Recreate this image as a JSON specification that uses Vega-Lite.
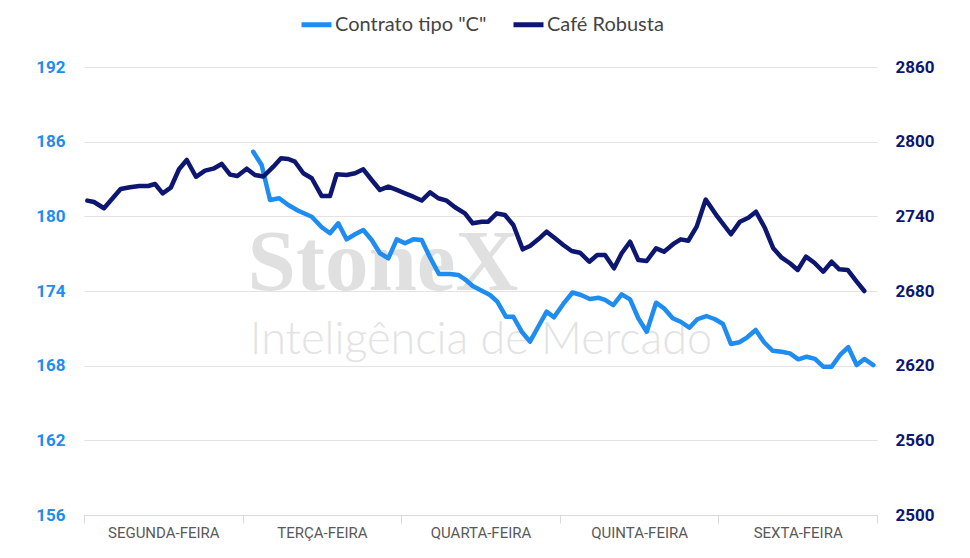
{
  "$schema": "https://vega.github.io/schema/vega-lite/v6.json",
  "width": 793,
  "height": 448,
  "autosize": {"type": "none"},
  "padding": {"left": 84, "top": 67, "right": 93, "bottom": 43},
  "background": "white",
  "config": {"view": {"stroke": null}, "font": "Roboto"},
  "datasets": {
    "arabica": [
      {"t": 1.067, "preco": 185.19, "serie": "Contrato tipo \"C\""},
      {"t": 1.120, "preco": 184.13, "serie": "Contrato tipo \"C\""},
      {"t": 1.173, "preco": 181.31, "serie": "Contrato tipo \"C\""},
      {"t": 1.231, "preco": 181.45, "serie": "Contrato tipo \"C\""},
      {"t": 1.288, "preco": 180.91, "serie": "Contrato tipo \"C\""},
      {"t": 1.351, "preco": 180.45, "serie": "Contrato tipo \"C\""},
      {"t": 1.436, "preco": 179.97, "serie": "Contrato tipo \"C\""},
      {"t": 1.499, "preco": 179.12, "serie": "Contrato tipo \"C\""},
      {"t": 1.551, "preco": 178.64, "serie": "Contrato tipo \"C\""},
      {"t": 1.603, "preco": 179.44, "serie": "Contrato tipo \"C\""},
      {"t": 1.656, "preco": 178.15, "serie": "Contrato tipo \"C\""},
      {"t": 1.709, "preco": 178.56, "serie": "Contrato tipo \"C\""},
      {"t": 1.761, "preco": 178.90, "serie": "Contrato tipo \"C\""},
      {"t": 1.814, "preco": 178.10, "serie": "Contrato tipo \"C\""},
      {"t": 1.866, "preco": 177.03, "serie": "Contrato tipo \"C\""},
      {"t": 1.919, "preco": 176.63, "serie": "Contrato tipo \"C\""},
      {"t": 1.972, "preco": 178.15, "serie": "Contrato tipo \"C\""},
      {"t": 2.024, "preco": 177.83, "serie": "Contrato tipo \"C\""},
      {"t": 2.076, "preco": 178.15, "serie": "Contrato tipo \"C\""},
      {"t": 2.129, "preco": 178.10, "serie": "Contrato tipo \"C\""},
      {"t": 2.182, "preco": 176.69, "serie": "Contrato tipo \"C\""},
      {"t": 2.238, "preco": 175.37, "serie": "Contrato tipo \"C\""},
      {"t": 2.308, "preco": 175.37, "serie": "Contrato tipo \"C\""},
      {"t": 2.360, "preco": 175.29, "serie": "Contrato tipo \"C\""},
      {"t": 2.402, "preco": 174.94, "serie": "Contrato tipo \"C\""},
      {"t": 2.451, "preco": 174.40, "serie": "Contrato tipo \"C\""},
      {"t": 2.508, "preco": 174.02, "serie": "Contrato tipo \"C\""},
      {"t": 2.560, "preco": 173.68, "serie": "Contrato tipo \"C\""},
      {"t": 2.606, "preco": 173.14, "serie": "Contrato tipo \"C\""},
      {"t": 2.661, "preco": 171.93, "serie": "Contrato tipo \"C\""},
      {"t": 2.707, "preco": 171.93, "serie": "Contrato tipo \"C\""},
      {"t": 2.760, "preco": 170.73, "serie": "Contrato tipo \"C\""},
      {"t": 2.812, "preco": 169.93, "serie": "Contrato tipo \"C\""},
      {"t": 2.864, "preco": 171.13, "serie": "Contrato tipo \"C\""},
      {"t": 2.917, "preco": 172.34, "serie": "Contrato tipo \"C\""},
      {"t": 2.963, "preco": 171.89, "serie": "Contrato tipo \"C\""},
      {"t": 3.022, "preco": 172.96, "serie": "Contrato tipo \"C\""},
      {"t": 3.080, "preco": 173.88, "serie": "Contrato tipo \"C\""},
      {"t": 3.134, "preco": 173.68, "serie": "Contrato tipo \"C\""},
      {"t": 3.189, "preco": 173.36, "serie": "Contrato tipo \"C\""},
      {"t": 3.246, "preco": 173.45, "serie": "Contrato tipo \"C\""},
      {"t": 3.285, "preco": 173.28, "serie": "Contrato tipo \"C\""},
      {"t": 3.337, "preco": 172.87, "serie": "Contrato tipo \"C\""},
      {"t": 3.390, "preco": 173.73, "serie": "Contrato tipo \"C\""},
      {"t": 3.443, "preco": 173.33, "serie": "Contrato tipo \"C\""},
      {"t": 3.495, "preco": 171.81, "serie": "Contrato tipo \"C\""},
      {"t": 3.548, "preco": 170.73, "serie": "Contrato tipo \"C\""},
      {"t": 3.607, "preco": 173.06, "serie": "Contrato tipo \"C\""},
      {"t": 3.657, "preco": 172.61, "serie": "Contrato tipo \"C\""},
      {"t": 3.712, "preco": 171.81, "serie": "Contrato tipo \"C\""},
      {"t": 3.762, "preco": 171.53, "serie": "Contrato tipo \"C\""},
      {"t": 3.817, "preco": 171.05, "serie": "Contrato tipo \"C\""},
      {"t": 3.867, "preco": 171.73, "serie": "Contrato tipo \"C\""},
      {"t": 3.924, "preco": 171.99, "serie": "Contrato tipo \"C\""},
      {"t": 3.979, "preco": 171.73, "serie": "Contrato tipo \"C\""},
      {"t": 4.029, "preco": 171.35, "serie": "Contrato tipo \"C\""},
      {"t": 4.079, "preco": 169.74, "serie": "Contrato tipo \"C\""},
      {"t": 4.132, "preco": 169.88, "serie": "Contrato tipo \"C\""},
      {"t": 4.182, "preco": 170.28, "serie": "Contrato tipo \"C\""},
      {"t": 4.235, "preco": 170.87, "serie": "Contrato tipo \"C\""},
      {"t": 4.288, "preco": 169.88, "serie": "Contrato tipo \"C\""},
      {"t": 4.342, "preco": 169.20, "serie": "Contrato tipo \"C\""},
      {"t": 4.399, "preco": 169.12, "serie": "Contrato tipo \"C\""},
      {"t": 4.451, "preco": 168.99, "serie": "Contrato tipo \"C\""},
      {"t": 4.504, "preco": 168.51, "serie": "Contrato tipo \"C\""},
      {"t": 4.557, "preco": 168.72, "serie": "Contrato tipo \"C\""},
      {"t": 4.609, "preco": 168.54, "serie": "Contrato tipo \"C\""},
      {"t": 4.661, "preco": 167.92, "serie": "Contrato tipo \"C\""},
      {"t": 4.714, "preco": 167.92, "serie": "Contrato tipo \"C\""},
      {"t": 4.767, "preco": 168.86, "serie": "Contrato tipo \"C\""},
      {"t": 4.819, "preco": 169.48, "serie": "Contrato tipo \"C\""},
      {"t": 4.872, "preco": 168.05, "serie": "Contrato tipo \"C\""},
      {"t": 4.920, "preco": 168.54, "serie": "Contrato tipo \"C\""},
      {"t": 4.977, "preco": 168.05, "serie": "Contrato tipo \"C\""}
    ],
    "robusta": [
      {"t": 0.021, "preco": 2752.6, "serie": "Café Robusta"},
      {"t": 0.063, "preco": 2751.5, "serie": "Café Robusta"},
      {"t": 0.126, "preco": 2746.5, "serie": "Café Robusta"},
      {"t": 0.175, "preco": 2753.7, "serie": "Café Robusta"},
      {"t": 0.231, "preco": 2762.0, "serie": "Café Robusta"},
      {"t": 0.290, "preco": 2763.3, "serie": "Café Robusta"},
      {"t": 0.349, "preco": 2764.4, "serie": "Café Robusta"},
      {"t": 0.405, "preco": 2764.4, "serie": "Café Robusta"},
      {"t": 0.448, "preco": 2766.0, "serie": "Café Robusta"},
      {"t": 0.496, "preco": 2758.5, "serie": "Café Robusta"},
      {"t": 0.547, "preco": 2763.0, "serie": "Café Robusta"},
      {"t": 0.599, "preco": 2777.8, "serie": "Café Robusta"},
      {"t": 0.648, "preco": 2785.3, "serie": "Café Robusta"},
      {"t": 0.706, "preco": 2771.8, "serie": "Café Robusta"},
      {"t": 0.763, "preco": 2776.7, "serie": "Café Robusta"},
      {"t": 0.815, "preco": 2778.3, "serie": "Café Robusta"},
      {"t": 0.868, "preco": 2782.1, "serie": "Café Robusta"},
      {"t": 0.921, "preco": 2773.5, "serie": "Café Robusta"},
      {"t": 0.967, "preco": 2772.4, "serie": "Café Robusta"},
      {"t": 1.026, "preco": 2778.3, "serie": "Café Robusta"},
      {"t": 1.078, "preco": 2773.2, "serie": "Café Robusta"},
      {"t": 1.131, "preco": 2772.0, "serie": "Café Robusta"},
      {"t": 1.194, "preco": 2779.9, "serie": "Café Robusta"},
      {"t": 1.242, "preco": 2786.6, "serie": "Café Robusta"},
      {"t": 1.288, "preco": 2786.1, "serie": "Café Robusta"},
      {"t": 1.330, "preco": 2783.9, "serie": "Café Robusta"},
      {"t": 1.383, "preco": 2774.6, "serie": "Café Robusta"},
      {"t": 1.436, "preco": 2770.6, "serie": "Café Robusta"},
      {"t": 1.499, "preco": 2756.3, "serie": "Café Robusta"},
      {"t": 1.551, "preco": 2756.3, "serie": "Café Robusta"},
      {"t": 1.593, "preco": 2773.8, "serie": "Café Robusta"},
      {"t": 1.656, "preco": 2773.2, "serie": "Café Robusta"},
      {"t": 1.709, "preco": 2774.6, "serie": "Café Robusta"},
      {"t": 1.761, "preco": 2777.8, "serie": "Café Robusta"},
      {"t": 1.814, "preco": 2769.2, "serie": "Café Robusta"},
      {"t": 1.866, "preco": 2761.2, "serie": "Café Robusta"},
      {"t": 1.919, "preco": 2763.8, "serie": "Café Robusta"},
      {"t": 1.972, "preco": 2761.2, "serie": "Café Robusta"},
      {"t": 2.024, "preco": 2758.5, "serie": "Café Robusta"},
      {"t": 2.076, "preco": 2755.8, "serie": "Café Robusta"},
      {"t": 2.129, "preco": 2752.7, "serie": "Café Robusta"},
      {"t": 2.182, "preco": 2759.2, "serie": "Café Robusta"},
      {"t": 2.234, "preco": 2754.5, "serie": "Café Robusta"},
      {"t": 2.287, "preco": 2752.6, "serie": "Café Robusta"},
      {"t": 2.339, "preco": 2747.3, "serie": "Café Robusta"},
      {"t": 2.402, "preco": 2742.4, "serie": "Café Robusta"},
      {"t": 2.451, "preco": 2734.4, "serie": "Café Robusta"},
      {"t": 2.508, "preco": 2735.7, "serie": "Café Robusta"},
      {"t": 2.549, "preco": 2735.7, "serie": "Café Robusta"},
      {"t": 2.602, "preco": 2742.4, "serie": "Café Robusta"},
      {"t": 2.654, "preco": 2741.1, "serie": "Café Robusta"},
      {"t": 2.707, "preco": 2733.0, "serie": "Café Robusta"},
      {"t": 2.766, "preco": 2713.5, "serie": "Café Robusta"},
      {"t": 2.812, "preco": 2716.2, "serie": "Café Robusta"},
      {"t": 2.864, "preco": 2721.5, "serie": "Café Robusta"},
      {"t": 2.917, "preco": 2727.7, "serie": "Café Robusta"},
      {"t": 2.970, "preco": 2722.3, "serie": "Café Robusta"},
      {"t": 3.022, "preco": 2717.0, "serie": "Café Robusta"},
      {"t": 3.075, "preco": 2712.1, "serie": "Café Robusta"},
      {"t": 3.127, "preco": 2710.8, "serie": "Café Robusta"},
      {"t": 3.186, "preco": 2703.5, "serie": "Café Robusta"},
      {"t": 3.236, "preco": 2708.9, "serie": "Café Robusta"},
      {"t": 3.285, "preco": 2708.9, "serie": "Café Robusta"},
      {"t": 3.342, "preco": 2698.2, "serie": "Café Robusta"},
      {"t": 3.390, "preco": 2710.3, "serie": "Café Robusta"},
      {"t": 3.443, "preco": 2719.6, "serie": "Café Robusta"},
      {"t": 3.495, "preco": 2704.9, "serie": "Café Robusta"},
      {"t": 3.548, "preco": 2704.1, "serie": "Café Robusta"},
      {"t": 3.607, "preco": 2714.3, "serie": "Café Robusta"},
      {"t": 3.657, "preco": 2711.6, "serie": "Café Robusta"},
      {"t": 3.716, "preco": 2717.8, "serie": "Café Robusta"},
      {"t": 3.762, "preco": 2721.5, "serie": "Café Robusta"},
      {"t": 3.810, "preco": 2720.4, "serie": "Café Robusta"},
      {"t": 3.863, "preco": 2731.7, "serie": "Café Robusta"},
      {"t": 3.920, "preco": 2753.5, "serie": "Café Robusta"},
      {"t": 3.994, "preco": 2739.7, "serie": "Café Robusta"},
      {"t": 4.079, "preco": 2725.6, "serie": "Café Robusta"},
      {"t": 4.136, "preco": 2735.7, "serie": "Café Robusta"},
      {"t": 4.189, "preco": 2738.9, "serie": "Café Robusta"},
      {"t": 4.237, "preco": 2743.7, "serie": "Café Robusta"},
      {"t": 4.294, "preco": 2730.4, "serie": "Café Robusta"},
      {"t": 4.346, "preco": 2714.3, "serie": "Café Robusta"},
      {"t": 4.399, "preco": 2706.8, "serie": "Café Robusta"},
      {"t": 4.451, "preco": 2702.3, "serie": "Café Robusta"},
      {"t": 4.500, "preco": 2696.9, "serie": "Café Robusta"},
      {"t": 4.552, "preco": 2707.6, "serie": "Café Robusta"},
      {"t": 4.605, "preco": 2702.7, "serie": "Café Robusta"},
      {"t": 4.661, "preco": 2695.5, "serie": "Café Robusta"},
      {"t": 4.714, "preco": 2703.5, "serie": "Café Robusta"},
      {"t": 4.762, "preco": 2697.4, "serie": "Café Robusta"},
      {"t": 4.815, "preco": 2696.9, "serie": "Café Robusta"},
      {"t": 4.872, "preco": 2687.5, "serie": "Café Robusta"},
      {"t": 4.920, "preco": 2680.0, "serie": "Café Robusta"}
    ]
  },
  "layer": [
    {
      "layer": [
        {
          "data": {"values": [{"t": 1.885, "preco": 174.1, "texto": "StoneX"}]},
          "mark": {"type": "text", "font": "Liberation Serif", "fontWeight": "bold", "fontSize": 87, "color": "#e0e0e0", "align": "center", "baseline": "alphabetic"},
          "encoding": {
            "x": {"field": "t", "type": "quantitative", "scale": {"domain": [0, 5], "nice": false, "zero": false}},
            "y": {"field": "preco", "type": "quantitative", "scale": {"domain": [156, 192], "nice": false, "zero": false}},
            "text": {"field": "texto"}
          }
        },
        {
          "data": {"values": [{"t": 2.503, "preco": 168.9, "texto": "Inteligência de Mercado"}]},
          "mark": {"type": "text", "font": "Lato", "fontWeight": 300, "fontSize": 45, "color": "#e3e3e3", "align": "center", "baseline": "alphabetic"},
          "encoding": {
            "x": {"field": "t", "type": "quantitative"},
            "y": {"field": "preco", "type": "quantitative"},
            "text": {"field": "texto"}
          }
        },
        {
          "data": {"name": "arabica"},
          "mark": {"type": "line", "strokeWidth": 4.5, "strokeJoin": "round", "strokeCap": "round"},
          "encoding": {
            "x": {
              "field": "t", "type": "quantitative",
              "scale": {"domain": [0, 5], "nice": false, "zero": false},
              "axis": {
                "title": null,
                "values": [0, 0.5, 1, 1.5, 2, 2.5, 3, 3.5, 4, 4.5, 5],
                "labelExpr": "datum.value==0.5?'SEGUNDA-FEIRA':datum.value==1.5?'TERÇA-FEIRA':datum.value==2.5?'QUARTA-FEIRA':datum.value==3.5?'QUINTA-FEIRA':datum.value==4.5?'SEXTA-FEIRA':''",
                "labelFont": "Roboto",
                "labelFontSize": 15,
                "labelColor": "#595959",
                "labelPadding": 2,
                "labelOverlap": false,
                "labelBound": false,
                "labelFlush": false,
                "tickSize": 8,
                "tickColor": "#d9d9d9",
                "tickOpacity": {"condition": {"test": "datum.value % 1 !== 0", "value": 0}, "value": 1},
                "domainColor": "#d9d9d9",
                "grid": false
              }
            },
            "y": {
              "field": "preco", "type": "quantitative",
              "scale": {"domain": [156, 192], "nice": false, "zero": false},
              "axis": {
                "title": null,
                "orient": "left",
                "values": [156, 162, 168, 174, 180, 186, 192],
                "labelColor": "#1E8CF0",
                "labelFont": "Roboto",
                "labelFontSize": 17,
                "labelFontWeight": "bold",
                "labelPadding": 19,
                "ticks": false,
                "domain": false,
                "grid": true,
                "gridColor": "#e3e3e3",
                "gridWidth": 1
              }
            },
            "color": {
              "field": "serie", "type": "nominal",
              "scale": {"domain": ["Contrato tipo \"C\"", "Café Robusta"], "range": ["#1E8CF0", "#0D1670"]},
              "legend": {
                "orient": "none",
                "legendX": 215,
                "legendY": -60,
                "direction": "horizontal",
                "title": null,
                "symbolType": "stroke",
                "symbolSize": 900,
                "symbolStrokeWidth": 5,
                "labelFont": "Lato",
                "labelFontSize": 20,
                "labelColor": "#444444",
                "labelOffset": 1,
                "columnPadding": 16
              }
            }
          }
        }
      ]
    },
    {
      "data": {"name": "robusta"},
      "mark": {"type": "line", "strokeWidth": 4.5, "strokeJoin": "round", "strokeCap": "round"},
      "encoding": {
        "x": {"field": "t", "type": "quantitative"},
        "y": {
          "field": "preco", "type": "quantitative",
          "scale": {"domain": [2500, 2860], "nice": false, "zero": false},
          "axis": {
            "title": null,
            "orient": "right",
            "format": "d",
            "values": [2500, 2560, 2620, 2680, 2740, 2800, 2860],
            "labelColor": "#0D1670",
            "labelFont": "Roboto",
            "labelFontSize": 17,
            "labelFontWeight": "bold",
            "labelPadding": 18,
            "ticks": false,
            "domain": false,
            "grid": false
          }
        },
        "color": {"field": "serie", "type": "nominal"}
      }
    }
  ],
  "resolve": {"scale": {"y": "independent"}, "axis": {"y": "independent"}}
}
